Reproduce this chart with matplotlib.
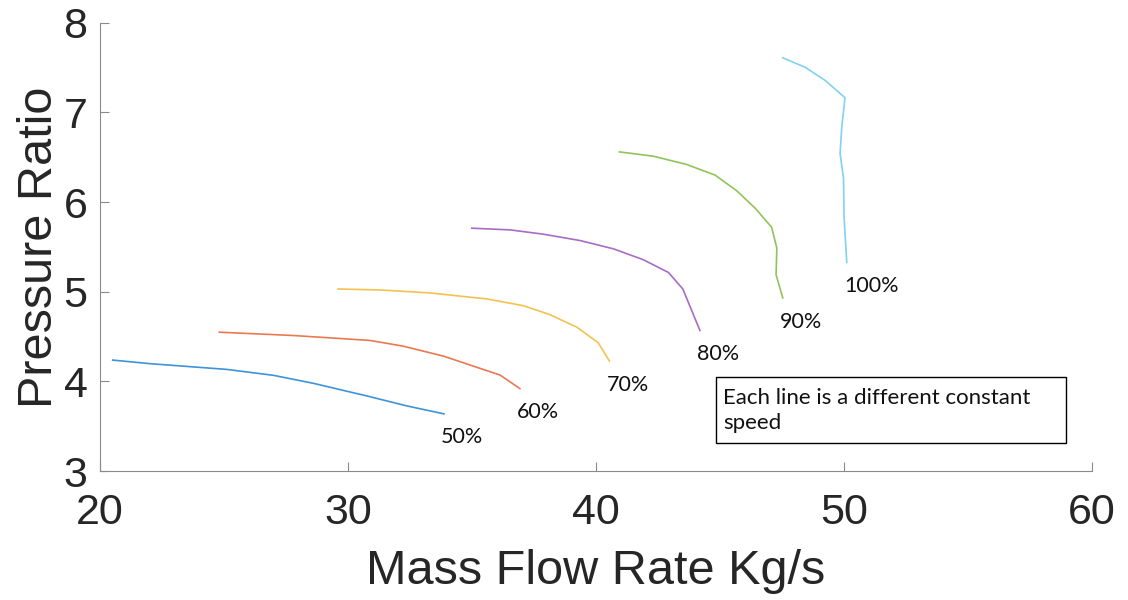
import matplotlib
matplotlib.use("Agg")
import matplotlib.pyplot as plt
from matplotlib.patches import Rectangle

# constant-speed lines, mass flow (kg/s) vs pressure ratio
speeds = ["50%", "60%", "70%", "80%", "90%", "100%"]

flow_50 = [20.51, 22.02, 25.11, 26.99, 28.60, 30.76, 32.37, 33.87]
pr_50 = [4.237, 4.197, 4.133, 4.067, 3.978, 3.837, 3.726, 3.637]

flow_60 = [24.81, 27.80, 30.89, 32.23, 33.85, 36.13, 36.93]
pr_60 = [4.548, 4.511, 4.456, 4.392, 4.281, 4.070, 3.919]

flow_70 = [29.60, 31.29, 33.31, 35.59, 37.07, 38.14, 39.23, 40.09, 40.54]
pr_70 = [5.030, 5.019, 4.986, 4.919, 4.844, 4.744, 4.603, 4.430, 4.226]

flow_80 = [34.99, 36.54, 37.88, 39.36, 40.70, 41.91, 42.92, 43.50, 44.19]
pr_80 = [5.708, 5.689, 5.641, 5.570, 5.478, 5.356, 5.214, 5.030, 4.567]

flow_90 = [40.94, 42.31, 43.65, 44.80, 45.67, 46.42, 47.08, 47.29, 47.26, 47.53]
pr_90 = [6.559, 6.511, 6.419, 6.300, 6.126, 5.930, 5.719, 5.486, 5.189, 4.930]

flow_100 = [47.53, 48.43, 49.24, 50.04, 49.91, 49.84, 49.98, 50.00, 50.11]
pr_100 = [7.608, 7.503, 7.356, 7.163, 6.837, 6.541, 6.263, 5.837, 5.326]

flows = [flow_50, flow_60, flow_70, flow_80, flow_90, flow_100]
ratios = [pr_50, pr_60, pr_70, pr_80, pr_90, pr_100]
colors = ["#3f93d8", "#ea7850", "#f2c250", "#a96bc4", "#90c45a", "#7fd2f2"]

fig = plt.figure(figsize=(11.28, 6), dpi=100)
ax = fig.add_axes([0.0887, 0.215, 0.8794, 0.7472])

for x, y, c, lab in zip(flows, ratios, colors, speeds):
    ax.plot(x, y, color=c, lw=1.2)
    ax.annotate(lab, (x[-1], y[-1]), xytext=(-2, -17), textcoords="offset points",
                ha="left", va="center", fontsize=15.5, family="Lato", color="#111111")

ax.set_xlim(20, 60)
ax.set_ylim(3, 8)
ax.set_xticks([20, 30, 40, 50, 60])
ax.set_yticks([3, 4, 5, 6, 7, 8])
for s in ["top", "right"]:
    ax.spines[s].set_visible(False)
for s in ["left", "bottom"]:
    ax.spines[s].set_color("#8a8a8a")
ax.tick_params(direction="in", length=6.5, color="#8a8a8a", labelsize=31,
               labelcolor="#262626")
ax.tick_params(axis="x", pad=16)
ax.tick_params(axis="y", pad=9)
for t in ax.get_xticklabels() + ax.get_yticklabels():
    t.set_family("Liberation Sans")

ax.set_xlabel("Mass Flow Rate Kg/s", fontsize=35, family="Liberation Sans",
              color="#262626", labelpad=11)
ax.set_ylabel("Pressure Ratio", fontsize=35, family="Liberation Sans",
              color="#262626", labelpad=1)

# note box
ax.add_patch(Rectangle((0.621, 0.0625), 0.353, 0.147, transform=ax.transAxes,
                       fill=False, ec="black", lw=1.0, clip_on=False))
ax.text(0.628, 0.186, "Each line is a different constant\nspeed",
        transform=ax.transAxes, ha="left", va="top", fontsize=16,
        family="Lato", linespacing=1.35, color="#111111")

fig.savefig("out.png", dpi=100)
